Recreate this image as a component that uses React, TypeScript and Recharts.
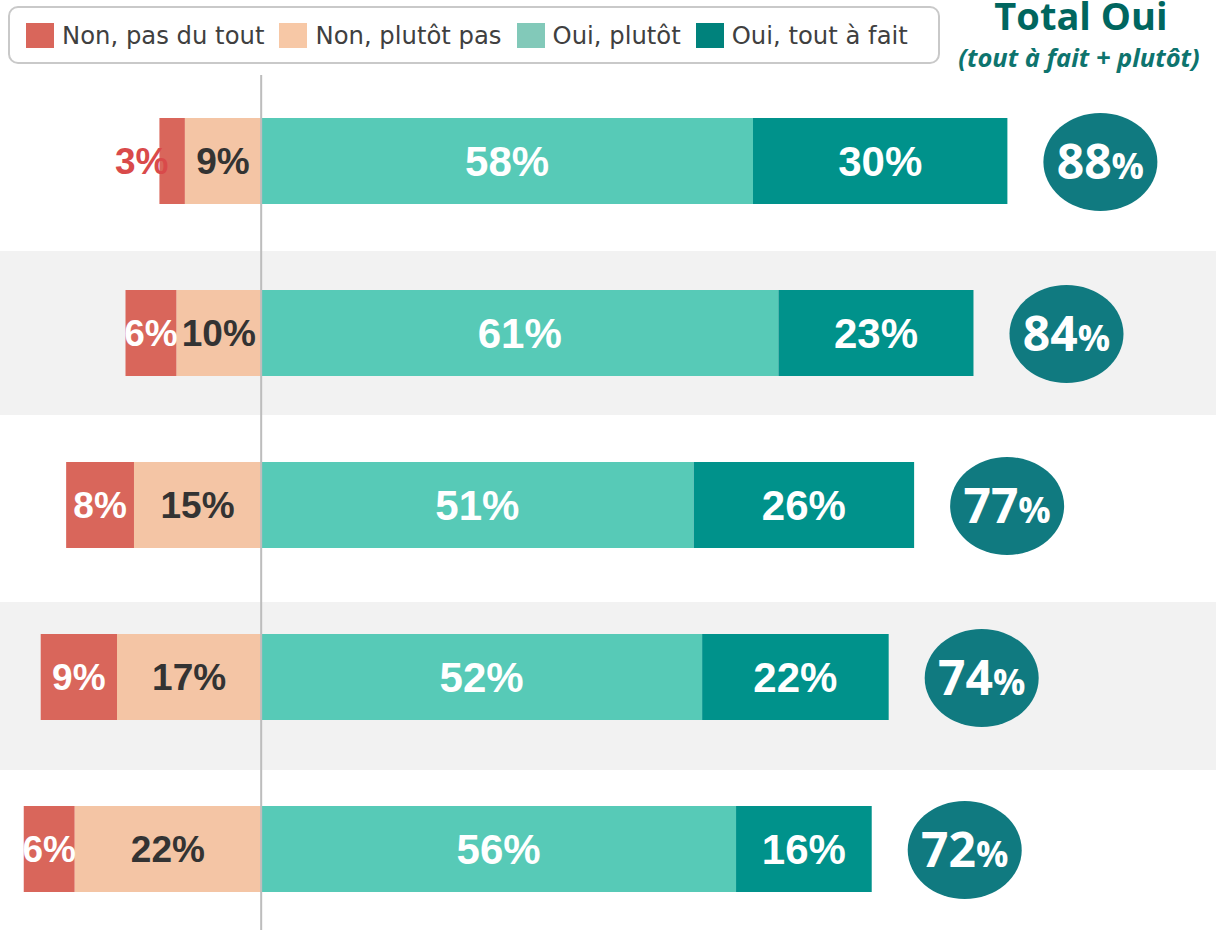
import React from "react";
import {
    BarChart,
    Bar,
    XAxis,
    YAxis,
    ReferenceArea,
    ReferenceLine,
    LabelList,
} from "recharts";

const categories = ["Q1", "Q2", "Q3", "Q4", "Q5"];
const nonPasDuTout = [3, 6, 8, 9, 6];
const nonPlutotPas = [9, 10, 15, 17, 22];
const ouiPlutot = [58, 61, 51, 52, 56];
const ouiToutAFait = [30, 23, 26, 22, 16];
const totalOui = [88, 84, 77, 74, 72];
const shadedRows = ["Q2", "Q4"];

const legendItems = [
    { label: "Non, pas du tout", color: "#d9665b" },
    { label: "Non, plutôt pas", color: "#f7c8a6" },
    { label: "Oui, plutôt", color: "#82c9b9" },
    { label: "Oui, tout à fait", color: "#00827c" },
];

const chartData = categories.map((name, i) => ({
    name,
    nonPlutotPas: -nonPlutotPas[i],
    nonPasDuTout: -nonPasDuTout[i],
    ouiPlutot: ouiPlutot[i],
    ouiToutAFait: ouiToutAFait[i],
    total: totalOui[i],
}));

const LABEL_FONT = "'Liberation Sans', Arial, sans-serif";
const ROUND_FONT = "'Open Sans', sans-serif";

// the grey bands in the original are not quite centred on their rows
const bandInset: Record<string, [number, number]> = {
    Q2: [4, -4],
    Q4: [11, 7],
};

// recharts 3 passes the bar box in viewBox, older versions spread it
function getBox(props: any) {
    const vb = props.viewBox && props.viewBox.width !== undefined ? props.viewBox : props;
    const left = Math.min(vb.x, vb.x + vb.width);
    return { left, w: Math.abs(vb.width), top: vb.y, h: vb.height };
}

function segmentLabel(color: string, size: number) {
    return (props: any) => {
        const { left, w, top, h } = getBox(props);
        const v = Math.abs(Number(props.value));
        const cy = top + h / 2 + size * 0.36;
        return (
            <text
                x={left + w / 2}
                y={cy}
                textAnchor="middle"
                fill={color}
                fontSize={size}
                fontWeight="bold"
                fontFamily={LABEL_FONT}
            >
                {v}%
            </text>
        );
    };
}

function outerLabel(props: any) {
    const { left, w, top, h } = getBox(props);
    const v = Math.abs(Number(props.value));
    const small = v < 5;
    return (
        <text
            x={small ? left + 9 : left + w / 2}
            y={top + h / 2 + 13}
            textAnchor={small ? "end" : "middle"}
            fill={small ? "#d94a4a" : "#ffffff"}
            fontSize={37}
            fontWeight="bold"
            fontFamily={LABEL_FONT}
        >
            {v}%
        </text>
    );
}

function totalBubble(props: any) {
    const { left, w, top, h } = getBox(props);
    const cx = left + w + 93;
    const cy = top + h / 2 + 1;
    return (
        <g>
            <ellipse cx={cx} cy={cy} rx={57} ry={49} fill="#107a80" />
            <text
                x={cx}
                y={cy + 17}
                textAnchor="middle"
                fill="#ffffff"
                fontWeight="bold"
                fontFamily={ROUND_FONT}
            >
                <tspan fontSize={48}>{props.value}</tspan>
                <tspan fontSize={36}>%</tspan>
            </text>
        </g>
    );
}

export default function App() {
    return (
        <div
            style={{
                position: "absolute",
                left: 0,
                top: 0,
                width: 1216,
                height: 930,
                overflow: "hidden",
                background: "#ffffff",
            }}
        >
            <BarChart
                width={1216}
                height={935}
                data={chartData}
                layout="vertical"
                stackOffset="sign"
                barSize={86}
                margin={{ top: 75, right: 0, bottom: 0, left: 0 }}
            >
                <XAxis type="number" domain={[-30.8, 112.6]} hide />
                <YAxis type="category" dataKey="name" hide />
                {shadedRows.map((row) => (
                    <ReferenceArea
                        key={row}
                        y1={row}
                        y2={row}
                        fill="#f2f2f2"
                        fillOpacity={1}
                        shape={(p: any) => {
                            const [t, b] = bandInset[row] || [0, 0];
                            return (
                                <rect
                                    x={p.x}
                                    y={p.y + t}
                                    width={p.width}
                                    height={p.height - t + b}
                                    fill="#f2f2f2"
                                />
                            );
                        }}
                    />
                ))}
                <Bar dataKey="nonPlutotPas" stackId="a" fill="#f4c5a5" isAnimationActive={false}>
                    <LabelList dataKey="nonPlutotPas" content={segmentLabel("#333333", 37)} />
                </Bar>
                <Bar dataKey="nonPasDuTout" stackId="a" fill="#d9665b" isAnimationActive={false}>
                    <LabelList dataKey="nonPasDuTout" content={outerLabel} />
                </Bar>
                <Bar dataKey="ouiPlutot" stackId="a" fill="#57cab7" isAnimationActive={false}>
                    <LabelList dataKey="ouiPlutot" content={segmentLabel("#ffffff", 42)} />
                </Bar>
                <Bar dataKey="ouiToutAFait" stackId="a" fill="#00928b" isAnimationActive={false}>
                    <LabelList dataKey="ouiToutAFait" content={segmentLabel("#ffffff", 42)} />
                    <LabelList dataKey="total" content={totalBubble} />
                </Bar>
                <ReferenceLine
                    x={0}
                    stroke="#bdbdbd"
                    strokeWidth={2}
                    shape={(p: any) => (
                        <line
                            x1={p.x1}
                            y1={p.y1 + 25}
                            x2={p.x2}
                            y2={p.y2}
                            stroke="#bdbdbd"
                            strokeWidth={2}
                        />
                    )}
                />
            </BarChart>

            {/* legend box, top left */}
            <div
                style={{
                    position: "absolute",
                    left: 8,
                    top: 6,
                    width: 932,
                    height: 58,
                    boxSizing: "border-box",
                    border: "2px solid #c9c9c9",
                    borderRadius: 10,
                    display: "flex",
                    alignItems: "center",
                    paddingLeft: 16,
                    fontFamily: "'DejaVu Sans', sans-serif",
                    fontSize: 24.3,
                    color: "#404040",
                    background: "#ffffff",
                }}
            >
                {legendItems.map((item) => (
                    <div
                        key={item.label}
                        style={{ display: "flex", alignItems: "center", marginRight: 15 }}
                    >
                        <span
                            style={{
                                display: "inline-block",
                                width: 28,
                                height: 25,
                                background: item.color,
                                marginRight: 8,
                            }}
                        />
                        <span style={{ whiteSpace: "nowrap" }}>{item.label}</span>
                    </div>
                ))}
            </div>

            <svg
                width={330}
                height={80}
                style={{ position: "absolute", left: 916, top: 0 }}
            >
                <text
                    x={165}
                    y={30}
                    textAnchor="middle"
                    fill="#00665f"
                    fontSize={38}
                    fontWeight="bold"
                    fontFamily={ROUND_FONT}
                >
                    Total Oui
                </text>
                <text
                    x={163}
                    y={67}
                    textAnchor="middle"
                    fill="#0e746e"
                    fontSize={25.5}
                    fontWeight="bold"
                    fontStyle="italic"
                    fontFamily={ROUND_FONT}
                >
                    (tout à fait + plutôt)
                </text>
            </svg>
        </div>
    );
}
